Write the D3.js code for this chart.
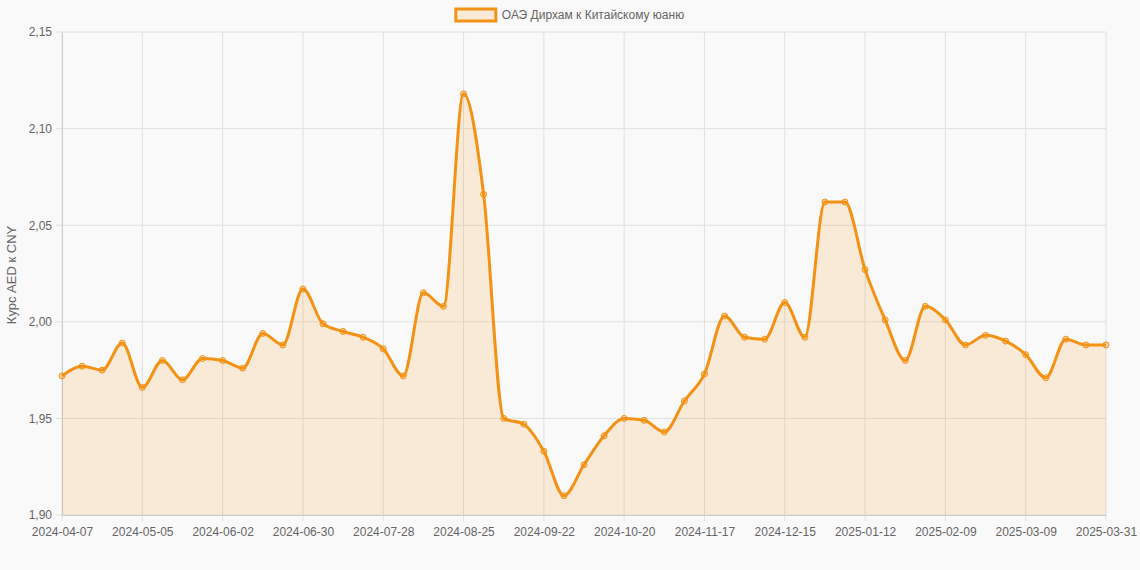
<!DOCTYPE html>
<html><head><meta charset="utf-8">
<script src="https://cdn.jsdelivr.net/npm/d3@7"></script>
<style>body{margin:0;background:#f9f9f9;font-family:"Helvetica Neue",Arial,"Liberation Sans",sans-serif}</style>
</head><body><svg id="chart"></svg>
<script>
var dates = ["2024-04-07","2024-04-14","2024-04-21","2024-04-28","2024-05-05","2024-05-12","2024-05-19","2024-05-26",
 "2024-06-02","2024-06-09","2024-06-16","2024-06-23","2024-06-30","2024-07-07","2024-07-14","2024-07-21",
 "2024-07-28","2024-08-04","2024-08-11","2024-08-18","2024-08-25","2024-09-01","2024-09-08","2024-09-15",
 "2024-09-22","2024-09-29","2024-10-06","2024-10-13","2024-10-20","2024-10-27","2024-11-03","2024-11-10",
 "2024-11-17","2024-11-24","2024-12-01","2024-12-08","2024-12-15","2024-12-22","2024-12-29","2025-01-05",
 "2025-01-12","2025-01-19","2025-01-26","2025-02-02","2025-02-09","2025-02-16","2025-02-23","2025-03-02",
 "2025-03-09","2025-03-16","2025-03-23","2025-03-30","2025-03-31"];
var rates = [1.972,1.977,1.975,1.989,1.966,1.980,1.970,1.981,1.980,1.976,1.994,1.988,2.017,1.999,1.995,1.992,
 1.986,1.972,2.015,2.008,2.118,2.066,1.950,1.947,1.933,1.910,1.926,1.941,1.950,1.949,1.943,1.959,
 1.973,2.003,1.992,1.991,2.010,1.992,2.062,2.062,2.027,2.001,1.980,2.008,2.001,1.988,1.993,1.990,
 1.983,1.971,1.991,1.988,1.988];
var yTicks = [1.90,1.95,2.00,2.05,2.10,2.15];
var seriesName = "ОАЭ Дирхам к Китайскому юаню";
var yTitle = "Курс AED к CNY";

var width = 1140, height = 570;
var margin = {top:32, right:34, bottom:55, left:62};
var iw = width - margin.left - margin.right, ih = height - margin.top - margin.bottom;
var color = "#f39214";

var svg = d3.select("#chart").attr("width", width).attr("height", height);
var g = svg.append("g").attr("transform", `translate(${margin.left},${margin.top})`);

var x = d3.scalePoint().domain(dates).range([0, iw]);
var y = d3.scaleLinear().domain([1.90, 2.15]).range([ih, 0]);
var fmt = v => d3.format(".2f")(v).replace(".", ",");

var shown = dates.filter((d, i) => i % 4 === 0 || i === dates.length - 1);

// grid
g.selectAll(".gx").data(shown).join("line")
  .attr("x1", d => x(d)).attr("x2", d => x(d)).attr("y1", 0).attr("y2", ih + 6)
  .attr("stroke", "#e0e0e0");
g.selectAll(".gy").data(yTicks).join("line")
  .attr("x1", -6).attr("x2", iw).attr("y1", d => y(d)).attr("y2", d => y(d))
  .attr("stroke", "#e0e0e0");

g.append("g").attr("transform", `translate(0,${ih})`)
  .call(d3.axisBottom(x).tickValues(shown).tickSize(0).tickPadding(12))
  .call(a => a.select(".domain").attr("stroke", "#ccc"))
  .selectAll("text").attr("fill", "#666").attr("font-size", 12);
g.append("g")
  .call(d3.axisLeft(y).tickValues(yTicks).tickFormat(fmt).tickSize(0).tickPadding(10))
  .call(a => a.select(".domain").attr("stroke", "#ccc"))
  .selectAll("text").attr("fill", "#666").attr("font-size", 12);

var pts = dates.map((d, i) => ({d: d, v: rates[i]}));
g.append("path").datum(pts)
  .attr("d", d3.area().x(p => x(p.d)).y0(ih).y1(p => y(p.v)).curve(d3.curveMonotoneX))
  .attr("fill", color).attr("fill-opacity", 0.15);
g.append("path").datum(pts)
  .attr("d", d3.line().x(p => x(p.d)).y(p => y(p.v)).curve(d3.curveMonotoneX))
  .attr("fill", "none").attr("stroke", color).attr("stroke-width", 3);
g.selectAll(".pt").data(pts).join("circle")
  .attr("cx", p => x(p.d)).attr("cy", p => y(p.v)).attr("r", 3)
  .attr("fill", "rgba(243,146,20,0.3)").attr("stroke", color).attr("stroke-width", 1);

svg.append("text").attr("transform", "translate(16,275) rotate(-90)")
  .attr("text-anchor", "middle").attr("fill", "#666").attr("font-size", 13).text(yTitle);

var leg = svg.append("g");
var lt = leg.append("text").attr("x", 502).attr("y", 19).attr("fill", "#666").attr("font-size", 12).text(seriesName);
var tw = lt.node().getComputedTextLength();
var lx = (width - (40 + 6 + tw)) / 2;
lt.attr("x", lx + 46);
leg.append("rect").attr("x", lx).attr("y", 9).attr("width", 40).attr("height", 12)
  .attr("fill", "rgba(243,146,20,0.15)").attr("stroke", color).attr("stroke-width", 3);
</script></body></html>
